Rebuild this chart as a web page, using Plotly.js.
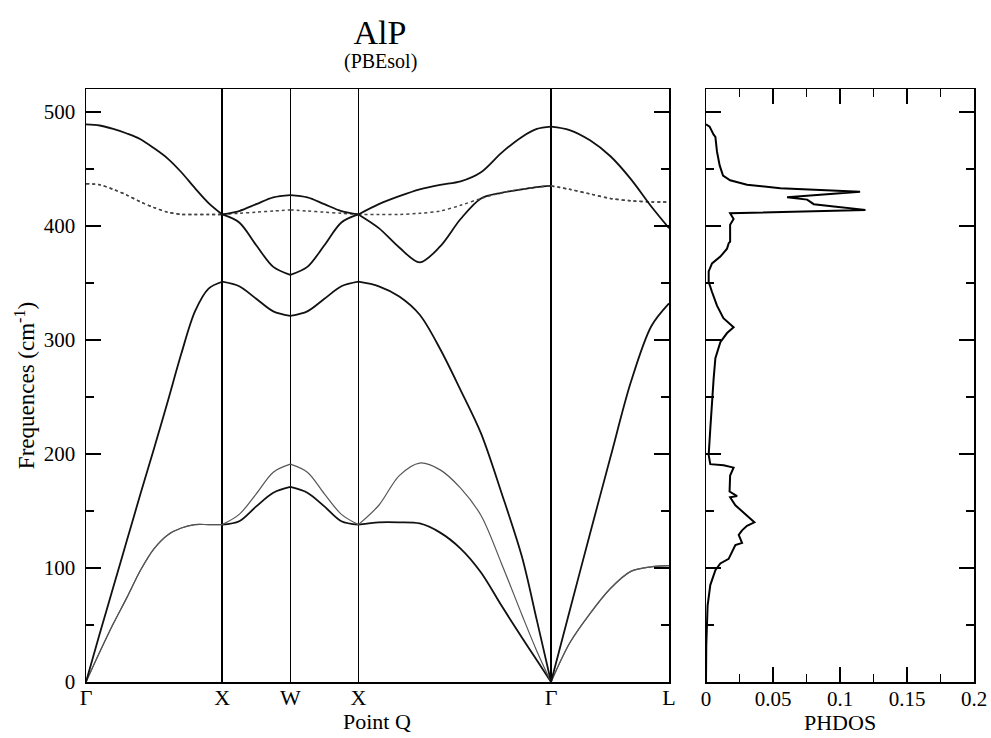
<!DOCTYPE html>
<html>
<head>
<meta charset="utf-8">
<script src="https://cdn.plot.ly/plotly-3.0.1.min.js"></script>
<style>html,body{margin:0;padding:0;background:#fff;}#chart{width:991px;height:738px;}</style>
</head>
<body>
<div id="chart"></div>
<script>
// ---- data ----
// path coordinate along Γ-X-W-X-Γ-L (boundary points repeated to start a new segment)
const qPos = [
  0, 0.1, 0.2, 0.3, 0.4, 0.5, 0.6, 0.7, 0.8, 0.9, 1.0,
  1.0, 1.125, 1.25, 1.375, 1.5,
  1.5, 1.625, 1.75, 1.875, 2.0,
  2.0, 2.15, 2.3, 2.45, 2.6, 2.75, 2.9, 3.05, 3.2, 3.31, 3.414,
  3.414, 3.55, 3.7, 3.85, 4.0, 4.15, 4.28
];
const kTickPos = [0, 1, 1.5, 2, 3.414, 4.28];
const kTickText = ['Γ', 'X', 'W', 'X', 'Γ', 'L'];

const bandTA1 = [
  0, 26, 51, 74, 98, 117, 129, 135, 138, 138, 138,
  138, 141, 154, 166, 171,
  171, 166, 154, 141, 138,
  138, 140, 140, 139, 131, 117, 96, 67, 39, 19, 0,
  0, 34, 60, 82, 97, 101, 102
];
const bandTA2 = [
  0, 26, 51, 74, 98, 117, 129, 135, 138, 138, 138,
  138, 147, 165, 184, 191,
  191, 184, 165, 147, 138,
  138, 155, 181, 192, 186, 170, 146, 104, 59, 27, 0,
  0, 34, 60, 82, 97, 101, 102
];
const bandLA = [
  0, 42, 83, 124, 165, 205, 246, 288, 325, 345, 351,
  351, 347, 336, 325, 321,
  321, 325, 336, 347, 351,
  351, 347, 338, 322, 292, 256, 218, 166, 110, 54, 0,
  0, 62, 130, 197, 263, 312, 332
];
const bandTO1 = [
  437, 436, 432, 427, 421, 416, 412, 410, 410, 410, 410,
  410, 403, 383, 364, 357,
  357, 364, 383, 403, 410,
  410, 398, 381, 368, 382, 406, 424, 429, 432, 434, 435,
  435, 432, 428, 424, 422, 421, 421
];
const bandTO2 = [
  437, 436, 432, 427, 421, 416, 412, 410, 410, 410, 410,
  410, 411, 412, 413, 414,
  414, 413, 412, 411, 410,
  410, 410, 410, 411, 413, 418, 424, 429, 432, 434, 435,
  435, 432, 428, 424, 422, 421, 421
];
const bandLO = [
  489, 488, 485, 481, 476, 468, 459, 447, 433, 420, 410,
  410, 413, 419, 425, 427,
  427, 425, 419, 413, 410,
  410, 419, 426, 432, 436, 439, 447, 464, 478, 485, 487,
  487, 484, 475, 461, 441, 417, 398
];

// phonon density of states
const dosFreq = [0, 32, 67, 85, 98, 104, 108, 120, 122, 129, 133, 137, 140, 146, 155, 162, 163, 167, 181, 188, 190, 191, 199, 222, 249, 266, 284, 298, 306, 311, 319, 330, 342, 351, 360, 367, 373, 380, 385, 386, 401, 406, 411, 414, 417, 419, 423, 425, 430, 433, 436, 440, 444, 453, 465, 478, 480, 487, 489];
const dosVal = [0, 0.0002, 0.0012, 0.0032, 0.007, 0.0107, 0.0169, 0.0219, 0.0269, 0.0244, 0.0269, 0.0306, 0.0361, 0.0306, 0.0219, 0.018, 0.0232, 0.0176, 0.018, 0.0206, 0.0132, 0.0032, 0.002, 0.0032, 0.0045, 0.0057, 0.007, 0.0107, 0.0157, 0.0206, 0.013, 0.0082, 0.0045, 0.002, 0.002, 0.0045, 0.0107, 0.0157, 0.017, 0.018, 0.018, 0.0206, 0.018, 0.119, 0.0954, 0.0804, 0.0755, 0.0605, 0.115, 0.0555, 0.0306, 0.018, 0.0127, 0.0102, 0.0082, 0.007, 0.0057, 0.0027, 0];

// ---- drawing ----
const solid = {color: '#111', width: 1.8};
const thin = {color: '#555', width: 1.2};
const dotted = {color: '#444', width: 1.5, dash: 'dot'};
const bands = [
  {y: bandTA1, st: [thin, solid, solid, solid, thin]},
  {y: bandTA2, st: [thin, thin, thin, thin, thin]},
  {y: bandLA, st: [solid, solid, solid, solid, solid]},
  {y: bandTO1, st: [dotted, solid, solid, solid, dotted]},
  {y: bandTO2, st: [dotted, dotted, dotted, dotted, dotted]},
  {y: bandLO, st: [solid, solid, solid, solid, solid]}
];
const segs = [];
let start = 0;
for (let i = 1; i < qPos.length; i++) {
  if (qPos[i] === qPos[i - 1]) { segs.push([start, i]); start = i; }
}
segs.push([start, qPos.length]);

const traces = [];
bands.forEach(b => {
  segs.forEach((s, si) => {
    traces.push({
      type: 'scatter', mode: 'lines',
      x: qPos.slice(s[0], s[1]), y: b.y.slice(s[0], s[1]),
      line: Object.assign({shape: 'spline', smoothing: 0.9}, b.st[si]),
      xaxis: 'x', yaxis: 'y', hoverinfo: 'skip', showlegend: false
    });
  });
});
traces.push({
  type: 'scatter', mode: 'lines', x: dosVal, y: dosFreq,
  line: {color: '#000', width: 2}, xaxis: 'x2', yaxis: 'y2',
  hoverinfo: 'skip', showlegend: false
});

const serif = "'Liberation Serif', 'Times New Roman', Times, serif";
const W = 991, H = 738;
const L = 86, R = 974, T = 89, B = 682;
const pw = R - L, ph = B - T;
const axisCommon = {
  showline: true, linecolor: '#000', linewidth: 1.5, zeroline: false,
  tickcolor: '#000', tickwidth: 1.5, tickfont: {family: serif, size: 21, color: '#000'}
};
const px2x = p => (p - L) / pw;
const px2y = p => (B - p) / ph;

const layout = {
  width: W, height: H,
  margin: {l: L, r: W - R, t: T, b: H - B, pad: 0},
  paper_bgcolor: '#fff', plot_bgcolor: '#fff',
  font: {family: serif, color: '#000'},
  title: {text: 'AlP', font: {family: serif, size: 34, color: '#000'},
          x: 380 / W, xanchor: 'center', y: 1 - 32 / H, yanchor: 'middle'},
  xaxis: Object.assign({}, axisCommon, {
    domain: [0, px2x(669)], range: [0, 4.28],
    tickmode: 'array', tickvals: kTickPos, ticktext: kTickText,
    ticks: '', showgrid: true, gridcolor: '#000', gridwidth: 1.6,
    mirror: true, tickfont: {family: serif, size: 22, color: '#000'},
    ticklabelstandoff: -5
  }),
  yaxis: Object.assign({}, axisCommon, {
    range: [0, 520], tickmode: 'linear', tick0: 0, dtick: 100,
    ticks: 'inside', ticklen: 15, mirror: 'ticks', showgrid: false,
    minor: {dtick: 50, ticks: 'inside', ticklen: 8, tickcolor: '#000', tickwidth: 1.5, showgrid: false},
    ticklabelstandoff: 5,
    title: {text: 'Frequences (cm<sup>-1</sup>)', font: {family: serif, size: 23, color: '#000'}, standoff: 2}
  }),
  xaxis2: Object.assign({}, axisCommon, {
    domain: [px2x(706), 1], range: [0, 0.2], anchor: 'y2',
    tickmode: 'linear', tick0: 0, dtick: 0.05,
    ticks: 'inside', ticklen: 15, mirror: 'ticks', showgrid: false,
    minor: {dtick: 0.025, ticks: 'inside', ticklen: 8, tickcolor: '#000', tickwidth: 1.5, showgrid: false},
    ticklabelstandoff: -3
  }),
  yaxis2: Object.assign({}, axisCommon, {
    range: [0, 520], anchor: 'x2', tickmode: 'linear', tick0: 0, dtick: 100,
    ticks: 'inside', ticklen: 15, mirror: 'ticks', showgrid: false, showticklabels: false,
    minor: {dtick: 50, ticks: 'inside', ticklen: 8, tickcolor: '#000', tickwidth: 1.5, showgrid: false}
  }),
  annotations: [
    {text: '(PBEsol)', xref: 'paper', yref: 'paper', x: px2x(380), y: px2y(62),
     xanchor: 'center', yanchor: 'middle', showarrow: false,
     font: {family: serif, size: 20, color: '#000'}},
    {text: 'Point Q', xref: 'paper', yref: 'paper', x: px2x(377), y: px2y(721),
     xanchor: 'center', yanchor: 'middle', showarrow: false,
     font: {family: serif, size: 22, color: '#000'}},
    {text: 'PHDOS', xref: 'paper', yref: 'paper', x: px2x(840), y: px2y(722),
     xanchor: 'center', yanchor: 'middle', showarrow: false,
     font: {family: serif, size: 22, color: '#000'}}
  ]
};

Plotly.newPlot('chart', traces, layout, {staticPlot: true, displayModeBar: false});
</script>
</body>
</html>
